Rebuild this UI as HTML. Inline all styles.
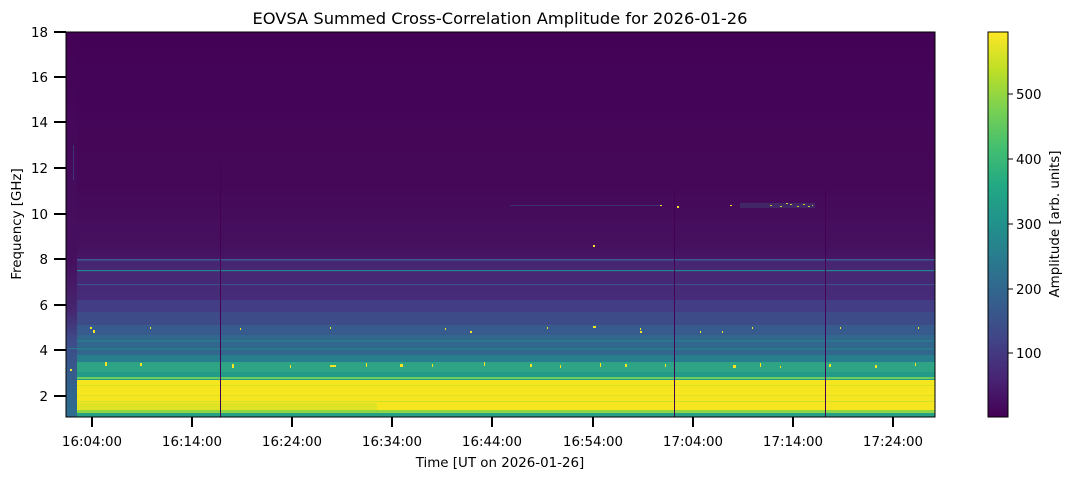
<!DOCTYPE html>
<html><head><meta charset="utf-8"><style>
body{margin:0;background:#fff;width:1073px;height:479px;overflow:hidden}
svg{font-family:"DejaVu Sans","Liberation Sans",sans-serif}
</style></head><body>
<svg width="1073" height="479" viewBox="0 0 1073 479" xmlns="http://www.w3.org/2000/svg">
<defs>
<linearGradient id="bg" x1="0" y1="0" x2="0" y2="1">
<stop offset="0" stop-color="#440256"/>
<stop offset="0.4" stop-color="#450859"/>
<stop offset="0.55" stop-color="#46105f"/>
<stop offset="0.62" stop-color="#471a67"/>
<stop offset="0.7" stop-color="#472773"/>
</linearGradient>
<linearGradient id="ls" x1="0" y1="0" x2="0" y2="1">
<stop offset="0" stop-color="#440256"/>
<stop offset="0.6" stop-color="#46105f"/>
<stop offset="0.72" stop-color="#46256f"/>
<stop offset="0.8" stop-color="#3e4a89"/>
<stop offset="0.9" stop-color="#345e8d"/>
<stop offset="1" stop-color="#2d6e8e"/>
</linearGradient>
<linearGradient id="cb" x1="0" y1="1" x2="0" y2="0">
<stop offset="0" stop-color="#440154"/><stop offset="0.1" stop-color="#482475"/>
<stop offset="0.2" stop-color="#414487"/><stop offset="0.3" stop-color="#355f8d"/>
<stop offset="0.4" stop-color="#2a788e"/><stop offset="0.5" stop-color="#21918c"/>
<stop offset="0.6" stop-color="#22a884"/><stop offset="0.7" stop-color="#44bf70"/>
<stop offset="0.8" stop-color="#7ad151"/><stop offset="0.9" stop-color="#bddf26"/>
<stop offset="1" stop-color="#fde725"/>
</linearGradient>
</defs>
<rect x="66" y="32" width="869" height="385" fill="url(#bg)"/>
<rect x="66" y="260" width="869" height="40" fill="#46307d" opacity="0.6"/>
<rect x="66" y="300" width="869" height="12" fill="#433d85"/>
<rect x="66" y="312" width="869" height="13" fill="#3d4c89"/>
<rect x="66" y="325" width="869" height="10" fill="#375b8c"/>
<rect x="66" y="335" width="869" height="20" fill="#31678d"/>
<rect x="66" y="340" width="869" height="2" fill="#2b768e"/>
<rect x="66" y="348" width="869" height="2" fill="#2a778e"/>
<rect x="66" y="355" width="869" height="7" fill="#277f8e"/>
<rect x="66" y="362" width="869" height="10" fill="#2fa484"/>
<rect x="66" y="372" width="869" height="8" fill="#249a88"/>
<rect x="66" y="377" width="869" height="2" fill="#6ccd5a"/>
<rect x="66" y="380" width="869" height="32" fill="#f6e620"/>
<rect x="66" y="385" width="869" height="1" fill="#d8e21f"/>
<rect x="66" y="395" width="869" height="1" fill="#dfe31f"/>
<rect x="66" y="401" width="869" height="1" fill="#cfe12a"/>
<rect x="77" y="403" width="300" height="7" fill="#c7df2b" opacity="0.5"/>
<rect x="66" y="410" width="869" height="3" fill="#8fd644"/>
<rect x="66" y="413" width="869" height="4" fill="#27a086"/>
<rect x="66" y="259" width="869" height="1.5" fill="#3a5c8c"/>
<rect x="66" y="270" width="869" height="1.2" fill="#25858e"/>
<rect x="66" y="284" width="869" height="1.2" fill="#3f4f8a"/>
<g fill="#f1e525">
<rect x="90" y="327" width="2" height="2"/><rect x="150" y="327" width="1" height="2"/><rect x="240" y="328" width="1" height="2"/><rect x="330" y="327" width="1" height="2"/><rect x="445" y="328" width="1" height="2"/><rect x="547" y="327" width="1" height="2"/><rect x="593" y="326" width="3" height="2"/><rect x="640" y="328" width="1" height="2"/><rect x="752" y="327" width="1" height="2"/><rect x="840" y="327" width="1" height="2"/><rect x="918" y="327" width="1" height="2"/>
<rect x="93" y="330" width="2" height="3"/><rect x="470" y="331" width="2" height="2"/><rect x="640" y="331" width="2" height="2"/><rect x="700" y="331" width="1" height="2"/><rect x="722" y="331" width="1" height="2"/>
<rect x="105" y="362" width="2" height="4"/><rect x="140" y="363" width="2" height="3"/><rect x="232" y="364" width="2" height="4"/><rect x="290" y="365" width="1" height="3"/><rect x="330" y="365" width="6" height="2"/><rect x="366" y="363" width="1" height="4"/><rect x="400" y="364" width="3" height="3"/><rect x="432" y="364" width="1" height="3"/><rect x="484" y="362" width="1" height="4"/><rect x="530" y="364" width="2" height="3"/><rect x="560" y="365" width="1" height="3"/><rect x="600" y="363" width="1" height="4"/><rect x="625" y="364" width="2" height="3"/><rect x="665" y="364" width="1" height="3"/><rect x="733" y="365" width="3" height="3"/><rect x="760" y="363" width="1" height="4"/><rect x="780" y="366" width="1" height="2"/><rect x="829" y="364" width="2" height="3"/><rect x="875" y="365" width="2" height="3"/><rect x="915" y="363" width="1" height="3"/>
<rect x="593" y="245" width="2" height="2"/>
<rect x="660" y="205" width="2" height="1"/><rect x="677" y="206" width="2" height="2"/><rect x="730" y="205" width="2" height="1"/><rect x="770" y="205" width="2" height="1"/><rect x="780" y="206" width="2" height="1"/><rect x="790" y="204" width="2" height="1"/><rect x="797" y="206" width="2" height="1"/><rect x="803" y="204" width="2" height="1"/><rect x="808" y="206" width="2" height="1"/><rect x="786" y="203" width="2" height="1"/><rect x="812" y="205" width="1" height="1"/>
</g>
<rect x="510" y="205" width="150" height="1" fill="#2e6e8e" opacity="0.4"/>
<rect x="740" y="203" width="75" height="5" fill="#3a7a88" opacity="0.25"/>
<rect x="66" y="32" width="11" height="385" fill="url(#ls)"/>
<rect x="68" y="348" width="9" height="1" fill="#2a788e"/>
<rect x="70" y="369" width="2" height="2" fill="#f1e525"/>
<rect x="73" y="145" width="1" height="35" fill="#3b4e89" opacity="0.6"/>
<rect x="220" y="165" width="1" height="252" fill="#440154"/>
<rect x="674" y="190" width="1" height="227" fill="#440154"/>
<rect x="825" y="190" width="1" height="227" fill="#440154"/>
<rect x="66" y="32" width="869" height="385" fill="none" stroke="#000" stroke-width="1"/>
<g stroke="#000" stroke-width="2">
<line x1="54" x2="66" y1="32" y2="32"/><line x1="54" x2="66" y1="77" y2="77"/><line x1="54" x2="66" y1="122" y2="122"/><line x1="54" x2="66" y1="168" y2="168"/><line x1="54" x2="66" y1="214" y2="214"/><line x1="54" x2="66" y1="259" y2="259"/><line x1="54" x2="66" y1="305" y2="305"/><line x1="54" x2="66" y1="350" y2="350"/><line x1="54" x2="66" y1="396" y2="396"/>
<line x1="92" x2="92" y1="417" y2="427"/><line x1="192" x2="192" y1="417" y2="427"/><line x1="292" x2="292" y1="417" y2="427"/><line x1="392" x2="392" y1="417" y2="427"/><line x1="492" x2="492" y1="417" y2="427"/><line x1="593" x2="593" y1="417" y2="427"/><line x1="693" x2="693" y1="417" y2="427"/><line x1="793" x2="793" y1="417" y2="427"/><line x1="893" x2="893" y1="417" y2="427"/>
</g>
<g font-size="13.4" fill="#000" text-anchor="end">
<text x="48" y="37">18</text><text x="48" y="82">16</text><text x="48" y="127">14</text><text x="48" y="173">12</text><text x="48" y="219">10</text><text x="48" y="264">8</text><text x="48" y="310">6</text><text x="48" y="355">4</text><text x="48" y="401">2</text>
</g>
<g font-size="13.4" fill="#000" text-anchor="middle">
<text x="92" y="446">16:04:00</text><text x="192" y="446">16:14:00</text><text x="292" y="446">16:24:00</text><text x="392" y="446">16:34:00</text><text x="492" y="446">16:44:00</text><text x="593" y="446">16:54:00</text><text x="693" y="446">17:04:00</text><text x="793" y="446">17:14:00</text><text x="893" y="446">17:24:00</text>
<text x="500" y="467">Time [UT on 2026-01-26]</text>
<text x="500" y="24" font-size="16.3">EOVSA Summed Cross-Correlation Amplitude for 2026-01-26</text>
<text transform="translate(21,224) rotate(-90)">Frequency [GHz]</text>
<text transform="translate(1059,224) rotate(-90)">Amplitude [arb. units]</text>
</g>
<rect x="988" y="32" width="20" height="385" fill="url(#cb)" stroke="#000" stroke-width="1"/>
<g stroke="#000" stroke-width="1">
<line x1="1008" x2="1013" y1="94" y2="94"/><line x1="1008" x2="1013" y1="159" y2="159"/><line x1="1008" x2="1013" y1="224" y2="224"/><line x1="1008" x2="1013" y1="289" y2="289"/><line x1="1008" x2="1013" y1="353" y2="353"/>
</g>
<g font-size="13.4" fill="#000">
<text x="1016" y="99">500</text><text x="1016" y="164">400</text><text x="1016" y="229">300</text><text x="1016" y="294">200</text><text x="1016" y="358">100</text>
</g>
</svg>
</body></html>
